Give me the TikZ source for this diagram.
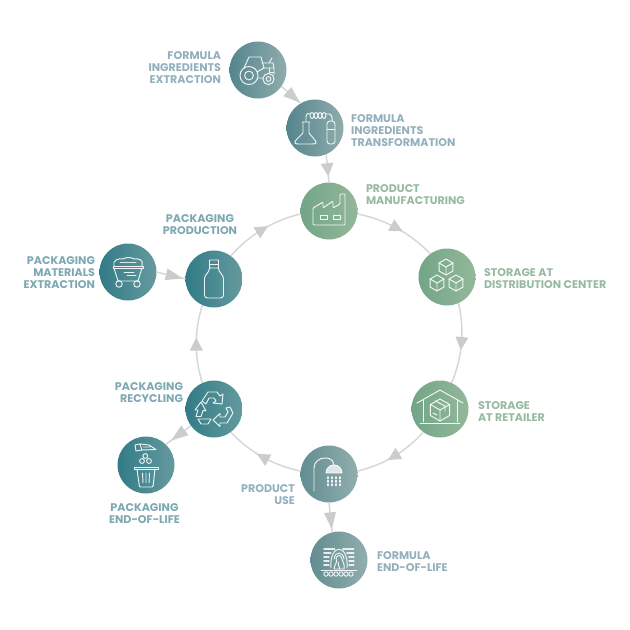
\documentclass[tikz,border=0pt]{standalone}
\usepackage{fontspec}
\setmainfont{Poppins}[BoldFont={* Bold}]
\usetikzlibrary{decorations.markings}
\definecolor{greyline}{HTML}{D6D8D8}
\definecolor{greyhead}{HTML}{CBCDCD}
\definecolor{txtblue}{HTML}{92B0BC}
\definecolor{txtgreen}{HTML}{96BAA0}
\definecolor{txtteal}{HTML}{7DA8B1}
\definecolor{HTMLa}{HTML}{55858E}
\definecolor{HTMLb}{HTML}{8FACAC}
\definecolor{HTMLc}{HTML}{73A587}
\definecolor{HTMLd}{HTML}{93B89B}
\definecolor{HTMLe}{HTML}{327B87}
\definecolor{HTMLf}{HTML}{659A9E}
\definecolor{HTMLg}{HTML}{628D92}
\definecolor{HTMLh}{HTML}{91AEAD}
\tikzset{
  disc/.style={circle,minimum size=57pt,inner sep=0pt,outer sep=0pt,shading=axis,shading angle=80},
  discslate/.style={disc,left color=HTMLa,right color=HTMLb},
  discgreen/.style={disc,left color=HTMLc,right color=HTMLd},
  discteal/.style={disc,left color=HTMLe,right color=HTMLf},
  discgrey/.style={disc,left color=HTMLg,right color=HTMLh},
  lbl/.style={inner sep=0pt,outer sep=0pt,yshift=-0.8pt,font=\bfseries\fontsize{11.1}{11.8}\selectfont},
  lblblue/.style={lbl,text=txtblue},
  lblgreen/.style={lbl,text=txtgreen},
  lblteal/.style={lbl,text=txtteal},
  link/.style={draw=greyline,line width=1.5pt},
  headat/.style={postaction={decorate},decoration={markings,mark=at position #1 with {\fill[greyhead] (6.5,0) -- (-6.5,6.5) -- (-6.5,-6.5) -- cycle;}}},
  longheadat/.style={postaction={decorate},decoration={markings,mark=at position #1 with {\fill[greyhead] (9,0) -- (-8,6) -- (-8,-6) -- cycle;}}},
  ringlink/.style={link,headat=0.5,bend left=18,looseness=0.87},
  ico/.style={draw=white,line width=0.95pt,line join=round,line cap=round,draw opacity=0.9},
  pics/isocube/.style={code={
    \draw[ico] (0,-#1) -- (.87*#1,-.5*#1) -- (.87*#1,.5*#1) -- (0,#1) -- (-.87*#1,.5*#1) -- (-.87*#1,-.5*#1) -- cycle;
    \draw[ico] (-.87*#1,-.5*#1) -- (0,0) -- (.87*#1,-.5*#1) (0,0) -- (0,#1);
  }},
}
\begin{document}
\begin{tikzpicture}[x=1pt,y=-1pt]
\useasboundingbox (0,0) rectangle (630,630);
% discs
\node[discslate] (tractor) at (258,70) {};
\node[discslate] (flask) at (315,128) {};
\node[discgreen] (factory) at (329,211) {};
\node[discgreen] (boxes) at (447,277) {};
\node[discgreen] (retailer) at (440,409) {};
\node[discgrey] (shower) at (329,474) {};
\node[discgrey] (endlife) at (339,560) {};
\node[discteal] (recycle) at (214,409) {};
\node[discteal] (trash) at (146,465) {};
\node[discteal] (bottle) at (214,279) {};
\node[discteal] (cart) at (128,272) {};
% ring
\draw[ringlink] (factory.-6) to (boxes.126);
\draw[ringlink] (boxes.-66) to (retailer.66);
\draw[ringlink] (retailer.-126) to (shower.6);
\draw[ringlink] (shower.174) to (recycle.-54);
\draw[ringlink] (recycle.114) to (bottle.-114);
\draw[ringlink] (bottle.54) to (factory.186);
% straight links
\draw[link,longheadat=0.62] (tractor.-35) -- (flask.120);
\draw[link,headat=0.55] (flask.-67) -- (factory.90);
\draw[link,longheadat=0.6] (cart.0) -- (bottle.180);
\draw[link,longheadat=0.5] (recycle.216) -- (trash.46);
\draw[link,longheadat=0.6] (shower.-90) -- (endlife.104);
% labels
\node[lblblue,align=right,anchor=east] (l1) at (221,67) {FORMULA\\INGREDIENTS\\EXTRACTION};
\node[lblblue,align=left,anchor=west] (l2) at (351,130) {FORMULA\\INGREDIENTS\\TRANSFORMATION};
\node[lblgreen,align=left,anchor=west] (l3) at (366,194) {PRODUCT\\MANUFACTURING};
\node[lblgreen,align=left,anchor=west] (l4) at (484,278) {STORAGE AT\\DISTRIBUTION CENTER};
\node[lblgreen,align=left,anchor=west] (l5) at (478,411) {STORAGE\\AT RETAILER};
\node[lblteal,align=center] (l6) at (200,224) {PACKAGING\\PRODUCTION};
\node[lblteal,align=right,anchor=east] (l7) at (95,272) {PACKAGING\\MATERIALS\\EXTRACTION};
\node[lblteal,align=right,anchor=east] (l8) at (183,392) {PACKAGING\\RECYCLING};
\node[lblteal,align=center] (l9) at (144.5,513) {PACKAGING\\END-OF-LIFE};
\node[lblblue,align=right,anchor=east] (l10) at (295,494) {PRODUCT\\USE};
\node[lblblue,align=left,anchor=west] (l11) at (377,561) {FORMULA\\END-OF-LIFE};
% tractor icon
\begin{scope}[shift={(tractor)}]
\draw[ico] (-9,5.5) circle[radius=9] (-9,5.5) circle[radius=4.4];
\draw[ico] (10.5,9) circle[radius=5.6] (10.5,9) circle[radius=2.4];
\draw[ico] (-14,-2) -- (-9,-13) -- (3,-13) -- (6,-2) -- (16,-2) -- (16,5);
\draw[ico] (0,8) -- (5,8) (-1,2) -- (6,-2);
\draw[ico] (4,-7) -- (15,-7) -- (16,-2) (11,-7) -- (14,-12);
\draw[ico] (11,-2) -- (11,2) -- (16,2);
\end{scope}
% flask icon
\begin{scope}[shift={(flask)}]
\draw[ico] (-13,-6) -- (-5,-6) (-12,-6) -- (-12,5) -- (-18,11) .. controls (-22,15) and (-20,16) .. (-16,16) -- (-3,16) .. controls (1,16) and (3,15) .. (-1,11) -- (-6,5) -- (-6,-6);
\draw[ico] (-9,-6) -- (-9,-11) .. controls (-9,-15) and (-6,-15) .. (-5,-14);
\foreach \c in {-3,1,5,9} \draw[ico] (\c,-12.5) ellipse[x radius=2,y radius=3];
\draw[ico] (11,-14) .. controls (16,-15) and (18,-12) .. (17,-7);
\draw[ico,rounded corners=3pt] (12,-7) -- (12,16) -- (20,16) -- (20,-7) -- cycle;
\draw[ico] (12,1) -- (20,1);
\end{scope}
% factory icon
\begin{scope}[shift={(factory)}]
\draw[ico,rounded corners=1pt] (-16,14) -- (-16,-3) -- (-6,-9) -- (-6,-3) -- (4,-10) -- (4,-3) -- (11,-7) -- (11,-17) -- (16,-17) -- (16,14) -- cycle;
\draw[ico] (-9,4) rectangle (-2,8) (4,4) rectangle (11,8);
\end{scope}
% boxes icon
\begin{scope}[shift={(boxes)}]
\pic at (-1,-10) {isocube=8};
\pic at (-10,6) {isocube=8};
\pic at (9,6) {isocube=8};
\end{scope}
% retailer icon
\begin{scope}[shift={(retailer)}]
\draw[ico] (-23,-6) -- (0,-19) -- (23,-6);
\draw[ico] (-17,-9) -- (-17,13) (17,-9) -- (17,13) (-20,14) -- (20,14);
\pic at (0,1) {isocube=11};
\draw[ico] (-4.5,-8) -- (5,-3) -- (5,2);
\draw[ico] (-7,4) -- (-3,6);
\end{scope}
% shower icon
\begin{scope}[shift={(shower)}]
\draw[ico] (-15,17) -- (-15,-6) .. controls (-15,-12) and (-10,-16) .. (-4,-16) .. controls (0,-16) and (4,-15) .. (5,-9);
\fill[white,opacity=0.75] (-3,-1) arc[start angle=180,end angle=360,radius=8] -- cycle;
\draw[ico] (-3,-1) arc[start angle=180,end angle=360,radius=8] -- cycle;
\foreach \x in {-1,3,7,11} \foreach \y in {3,6.5,10} \draw[ico,line width=1.5pt] (\x,\y) -- (\x,\y+1.5);
\end{scope}
% formula end-of-life icon
\begin{scope}[shift={(endlife)}]
\draw[ico,densely dotted,line width=1.4pt] (-15,-11) -- (-4,-11) (-15,-7) -- (-8,-7) (-15,-3) -- (-10,-3) (-15,1) -- (-10,1) (-15,5) -- (-10,5)
  (4,-11) -- (15,-11) (8,-7) -- (15,-7) (10,-3) -- (15,-3) (10,1) -- (15,1) (10,5) -- (15,5);
\draw[ico] (-8,8) .. controls (-10,-17) and (10,-17) .. (8,8);
\draw[ico] (-5,-1) .. controls (-4,-9) and (4,-9) .. (5,-1);
\draw[ico] (-3,-2) .. controls (-1,-6) and (2,-5) .. (3,-1) .. controls (4,2) and (6,5) .. (5,9) -- (-5,9) .. controls (-5,5) and (-1,3) .. (-3,-2);
\draw[ico] (-1,2) .. controls (-2,5) and (1,6) .. (1,9);
\draw[ico] (-18,10) -- (18,10);
\foreach \x in {-13,-8,-3,2,7,12} \draw[ico] (\x,14) circle[radius=2.2];
\end{scope}
% recycle icon
\begin{scope}[shift={(recycle)}]
\draw[ico] (-12,-8) -- (-6,-17) -- (3,-17) -- (6,-13) -- (9,-15) -- (8,-5) -- (-1,-6) -- (2,-8) -- (0,-11) -- (-5,-11) -- (-8,-5) -- cycle;
\draw[ico] (-13,-7) -- (-8,2) -- (-11,1.5) -- (-13,7.5) -- (-18,7.5) -- (-16,1) -- (-19,1) -- cycle;
\draw[ico] (-16,10) -- (-3,10) -- (-6,15) -- (-13,15) -- cycle;
\draw[ico] (-1,11) -- (6,4.5) -- (6,8) -- (11,8) -- (14,3) -- (12,-1) -- (16,-2) -- (19,4) -- (13,14) -- (6,14) -- (6,17.5) -- cycle;
\end{scope}
% trash icon
\begin{scope}[shift={(trash)}]
\draw[ico] (-11,-20) -- (-6,-21) -- (-4,-15) -- (-10,-14) -- cycle;
\draw[ico] (-6,-21) -- (3,-20) -- (10,-15.5) -- (-4,-15) (-3,-18) -- (4,-18);
\draw[ico] (-0.7,-9) circle[radius=2.4] (-4,-4) circle[radius=2.4] (3,-4) circle[radius=2.4];
\draw[ico] (-12,2) -- (12,2) -- (12,4) -- (-12,4) -- cycle;
\draw[ico,rounded corners=1pt] (-9,4) -- (-6.5,22) -- (7,22) -- (9,4);
\draw[ico] (-3.5,8) -- (-3,18) (0,8) -- (0,18) (3.5,8) -- (3,18);
\end{scope}
% bottle icon
\begin{scope}[shift={(bottle)}]
\draw[ico,rounded corners=0.6pt] (-4.5,-19) rectangle (4.5,-11);
\draw[ico] (-4.5,-15) -- (4.5,-15);
\draw[ico,rounded corners=3pt] (-4.5,-11) -- (-4.5,-8) -- (-9.5,-3) -- (-9.5,19) -- (9.5,19) -- (9.5,-3) -- (4.5,-8) -- (4.5,-11);
\end{scope}
% cart icon
\begin{scope}[shift={(cart)}]
\draw[ico] (-15,-6) -- (15,-6) -- (15,-4) -- (-15,-4) -- cycle;
\draw[ico] (-14,-6) .. controls (-16,-12) and (-9,-14) .. (-5,-13) .. controls (-2,-15) and (3,-15) .. (6,-13) .. controls (11,-14) and (16,-12) .. (14,-6);
\draw[ico,densely dotted] (-8,-10) -- (8,-10);
\draw[ico] (-14,-4) -- (-10,9) -- (10,9) -- (14,-4);
\draw[ico] (-4,0) -- (6,0) (-1,3) -- (8,3);
\draw[ico] (-9,12) circle[radius=3.2] (9,12) circle[radius=3.2];
\end{scope}
\end{tikzpicture}
\end{document}
